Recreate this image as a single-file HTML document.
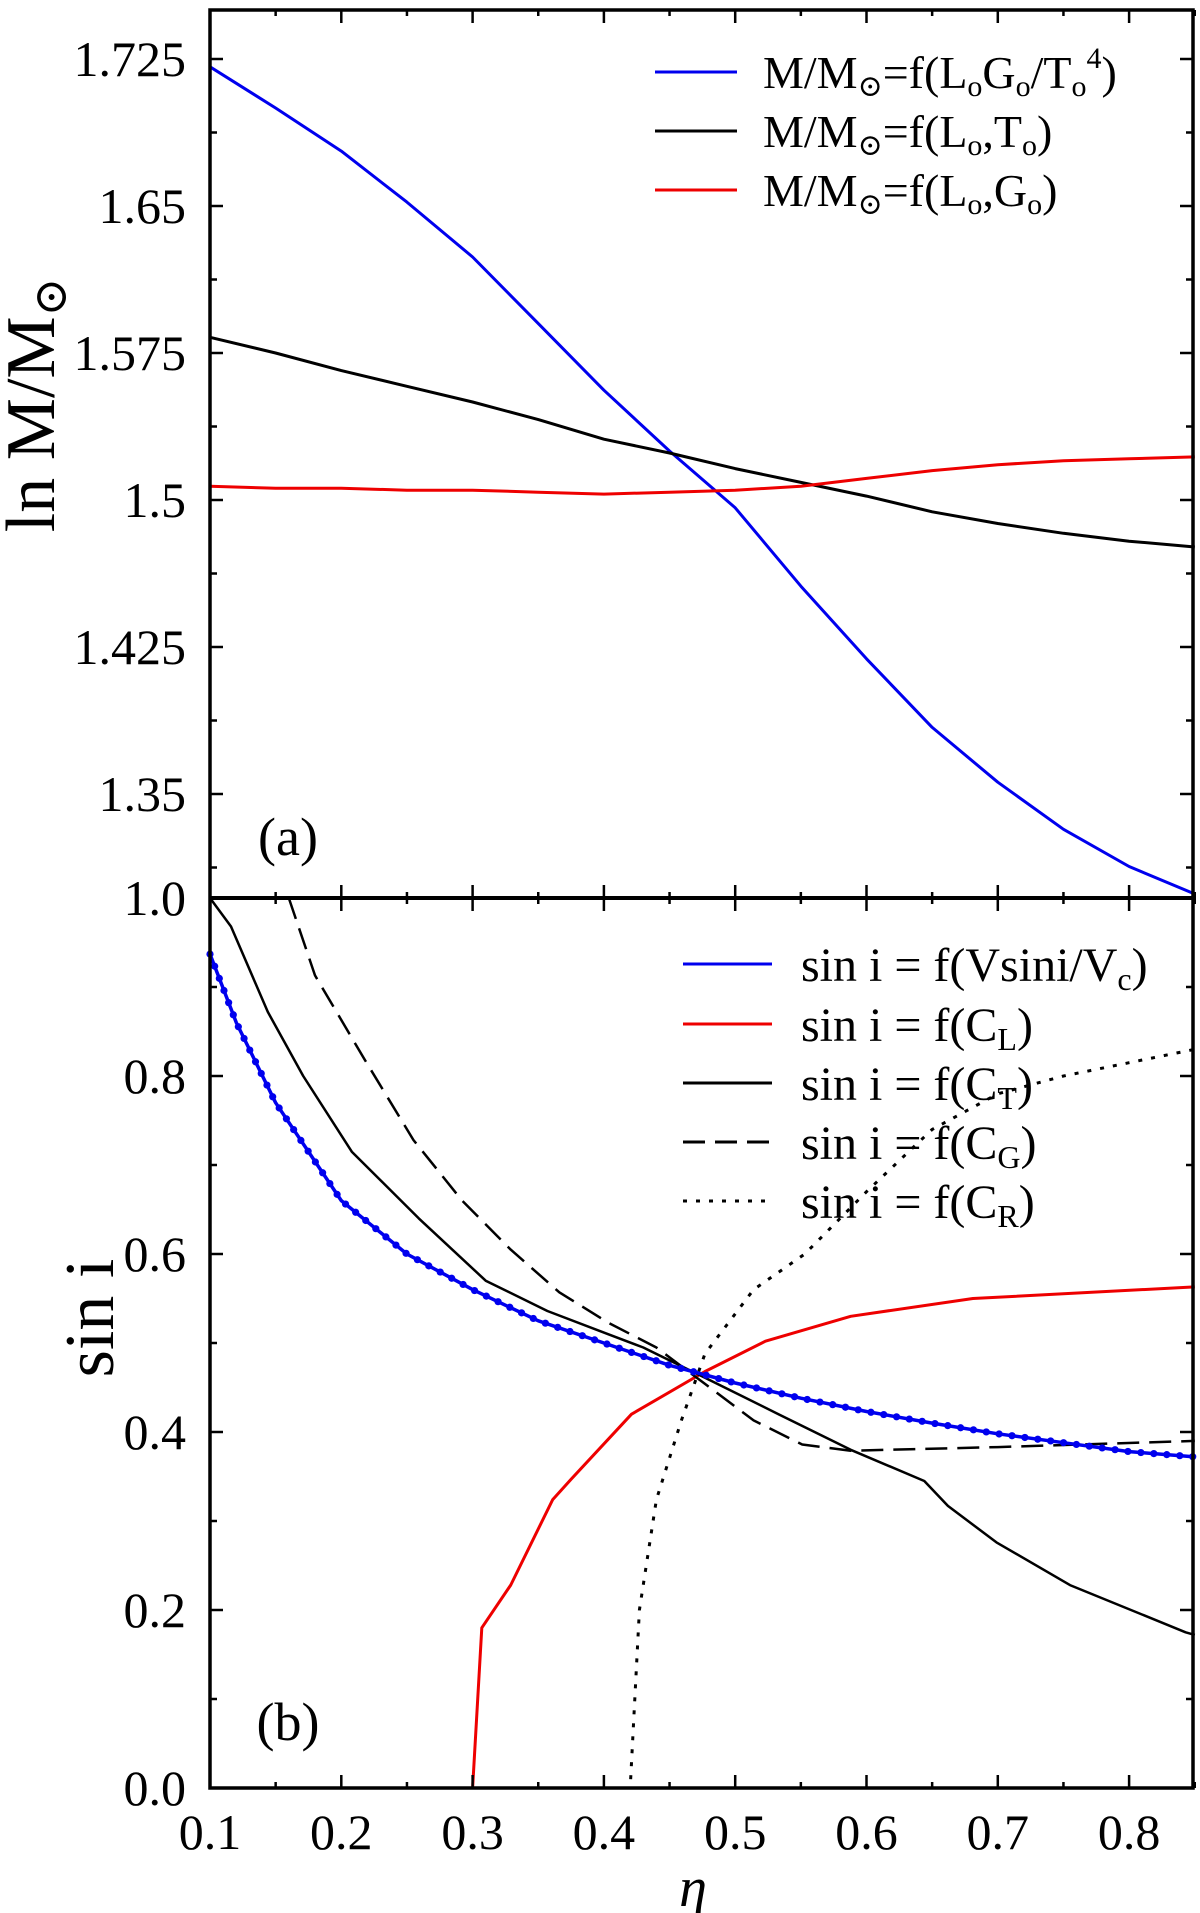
<!DOCTYPE html>
<html><head><meta charset="utf-8"><style>
html,body{margin:0;padding:0;background:#fff;}
svg{display:block;}
text{font-family:"Liberation Serif","DejaVu Serif",serif;}
</style></head><body>
<svg id="chart" width="1200" height="1913" viewBox="0 0 1200 1913" xmlns="http://www.w3.org/2000/svg" font-family="Liberation Serif, serif"></svg>
<script>
// ---- data ----
const etaA = [0.1,0.15,0.2,0.25,0.3,0.35,0.4,0.45,0.5,0.55,0.6,0.65,0.7,0.75,0.8,0.85];
const massBlue = [1.721,1.700,1.678,1.652,1.624,1.590,1.556,1.525,1.496,1.456,1.419,1.384,1.356,1.332,1.313,1.299];
const massBlack = [1.583,1.575,1.566,1.558,1.550,1.541,1.531,1.524,1.516,1.509,1.502,1.494,1.488,1.483,1.479,1.476];
const massRed = [1.507,1.506,1.506,1.505,1.505,1.504,1.503,1.504,1.505,1.507,1.511,1.515,1.518,1.520,1.521,1.522];

const etaV = [0.1,0.12,0.15,0.2,0.25,0.3,0.35,0.4,0.45,0.5,0.55,0.6,0.65,0.7,0.75,0.8,0.85];
const sinV = [0.937,0.86,0.77,0.66,0.60,0.56,0.525,0.50,0.475,0.455,0.438,0.423,0.41,0.398,0.388,0.378,0.372];
const etaT = [0.1,0.116,0.144,0.171,0.208,0.259,0.31,0.357,0.403,0.43,0.477,0.533,0.588,0.644,0.662,0.699,0.755,0.843,0.85];
const sinT = [1.0,0.968,0.872,0.80,0.715,0.64,0.57,0.536,0.51,0.495,0.461,0.42,0.38,0.345,0.317,0.276,0.228,0.175,0.172];
const etaG = [0.16,0.18,0.218,0.255,0.292,0.329,0.366,0.403,0.44,0.477,0.514,0.551,0.588,0.7,0.85];
const sinG = [1.0,0.913,0.818,0.728,0.66,0.605,0.557,0.523,0.495,0.454,0.413,0.386,0.379,0.383,0.39];
const etaL = [0.1,0.3,0.307,0.329,0.361,0.375,0.421,0.477,0.523,0.588,0.681,0.85];
const sinL = [0,0,0.18,0.228,0.324,0.347,0.42,0.468,0.502,0.53,0.55,0.563];
const etaR = [0.1,0.42,0.427,0.44,0.459,0.477,0.514,0.553,0.6,0.65,0.7,0.75,0.8,0.85];
const sinR = [0,0,0.2,0.324,0.413,0.488,0.56,0.60,0.67,0.74,0.78,0.80,0.815,0.83];

const xTicks = [0.1,0.2,0.3,0.4,0.5,0.6,0.7,0.8];
const xTickLabels = ["0.1","0.2","0.3","0.4","0.5","0.6","0.7","0.8"];
const yTopTicks = [1.725,1.65,1.575,1.5,1.425,1.35];
const yTopLabels = ["1.725","1.65","1.575","1.5","1.425","1.35"];
const yBotTicks = [0,0.2,0.4,0.6,0.8,1.0];
const yBotLabels = ["0.0","0.2","0.4","0.6","0.8","1.0"];

// ---- axes ----
const L=210, R=1193, T=10, MID=898, B=1788;
const X = e => L + (e-0.1)*1313;
const YA = v => 59 + (1.725-v)*1960;
const YB = v => B - v*890;
const NS="http://www.w3.org/2000/svg";
const svg=document.getElementById('chart');
function mk(tag,attrs,parent){const el=document.createElementNS(NS,tag);for(const k in attrs)el.setAttribute(k,attrs[k]);(parent||svg).appendChild(el);return el;}

const plots=mk('g',{});



function line(xs,ys,Y,color,name,dash,w){
  const d=xs.map((e,i)=>(i?'L':'M')+X(e).toFixed(1)+' '+Y(ys[i]).toFixed(1)).join(' ');
  const p=mk('path',{d:d,fill:'none',stroke:color,'stroke-width':w||3,'stroke-linejoin':'round'},plots);
  if(dash)p.setAttribute('stroke-dasharray',dash);
  
  
  return p;
}
line(etaA,massBlue,YA,'#0000ee','series-mass-logg-teff');
line(etaA,massBlack,YA,'#000','series-mass-l-t');
line(etaA,massRed,YA,'#ee0000','series-mass-l-g');

line(etaL,sinL,YB,'#ee0000','series-sini-cl');
line(etaR,sinR,YB,'#000','series-sini-cr','4 9');
line(etaG,sinG,YB,'#000','series-sini-cg','22 10',2.5);
line(etaT,sinT,YB,'#000','series-sini-ct',null,2.5);
const bp=line(etaV,sinV,YB,'#0000ee','series-sini-vsini',null,3.5);
const tot=bp.getTotalLength();
for(let s=0;s<=tot;s+=13){const pt=bp.getPointAtLength(s);
  const c=mk('circle',{cx:pt.x,cy:pt.y,r:3.6,fill:'#0000ee'},plots);
  
  }

// ---- frames & ticks ----
const ax=mk('g',{stroke:'#000','stroke-width':3.5,fill:'none'});


mk('rect',{x:L,y:T,width:R-L,height:B-T},ax);
mk('line',{x1:L,y1:MID,x2:R,y2:MID,'stroke-width':4},ax);
for(let e=0.1;e<=0.851;e+=0.05){
  const major=Math.abs(Math.round(e*10)-e*10)<0.01, len=major?13:6, x=X(e);
  mk('line',{x1:x,y1:B,x2:x,y2:B-len,'stroke-width':2.5},ax);
  mk('line',{x1:x,y1:T,x2:x,y2:T+len,'stroke-width':2.5},ax);
  mk('line',{x1:x,y1:MID,x2:x,y2:MID-len,'stroke-width':2.5},ax);
  mk('line',{x1:x,y1:MID,x2:x,y2:MID+len,'stroke-width':2.5},ax);
}
for(let v=1.3125;v<=1.75;v+=0.0375){
  const y=YA(v); if(y<T+2||y>MID-2)continue;
  const major=yTopTicks.some(t=>Math.abs(t-v)<0.001),len=major?13:7;
  mk('line',{x1:L,y1:y,x2:L+len,y2:y,'stroke-width':2.5},ax);
  mk('line',{x1:R,y1:y,x2:R-len,y2:y,'stroke-width':2.5},ax);
}
for(let v=0.1;v<1.0;v+=0.1){
  const y=YB(v),major=Math.round(v*10)%2===0,len=major?13:7;
  mk('line',{x1:L,y1:y,x2:L+len,y2:y,'stroke-width':2.5},ax);
  mk('line',{x1:R,y1:y,x2:R-len,y2:y,'stroke-width':2.5},ax);
}

// ---- labels ----
function txt(s,x,y,size,anchor,name,extra){
  const t=mk('text',Object.assign({x:x,y:y,'font-size':size,'text-anchor':anchor||'middle',fill:'#000','font-family':'Liberation Serif, serif'},extra||{}));
  t.textContent=s;
  
  
  return t;
}
xTicks.forEach((e,i)=>txt(xTickLabels[i],X(e),1849,50,'middle','x-tick-label'));
yTopTicks.forEach((v,i)=>txt(yTopLabels[i],186,YA(v)+17,50,'end','y-top-tick-label'));
yBotTicks.forEach((v,i)=>txt(yBotLabels[i],186,YB(v)+17,50,'end','y-bottom-tick-label'));
txt('η',693,1906,56,'middle','x-axis-title',{'font-style':'italic'});
txt('(a)',288,855,54,'middle','panel-a-label');
txt('(b)',288,1740,54,'middle','panel-b-label');
</script>

<svg style="position:absolute;left:0;top:0" width="1200" height="1913" viewBox="0 0 1200 1913" xmlns="http://www.w3.org/2000/svg" font-family="Liberation Serif, serif">
  <text transform="translate(54,405) rotate(-90)" text-anchor="middle" font-size="70">ln M/M<tspan font-size="46" dy="12">⊙</tspan></text>
  <text transform="translate(113,1318) rotate(-90)" text-anchor="middle" font-size="70">sin i</text>

  <g font-size="46">
    <g>
      <line x1="655" y1="72" x2="737" y2="72" stroke="#0000ee" stroke-width="3"/>
      <text x="763" y="88">M/M<tspan font-size="30" dy="8">⊙</tspan><tspan dy="-8">=f(L</tspan><tspan font-size="30" dy="8">o</tspan><tspan dy="-8">G</tspan><tspan font-size="30" dy="8">o</tspan><tspan dy="-8">/T</tspan><tspan font-size="30" dy="8">o</tspan><tspan font-size="30" dy="-28">4</tspan><tspan dy="20">)</tspan></text>
    </g>
    <g>
      <line x1="655" y1="131" x2="737" y2="131" stroke="#000" stroke-width="3"/>
      <text x="763" y="147">M/M<tspan font-size="30" dy="8">⊙</tspan><tspan dy="-8">=f(L</tspan><tspan font-size="30" dy="8">o</tspan><tspan dy="-8">,T</tspan><tspan font-size="30" dy="8">o</tspan><tspan dy="-8">)</tspan></text>
    </g>
    <g>
      <line x1="655" y1="190" x2="737" y2="190" stroke="#ee0000" stroke-width="3"/>
      <text x="763" y="206">M/M<tspan font-size="30" dy="8">⊙</tspan><tspan dy="-8">=f(L</tspan><tspan font-size="30" dy="8">o</tspan><tspan dy="-8">,G</tspan><tspan font-size="30" dy="8">o</tspan><tspan dy="-8">)</tspan></text>
    </g>
  </g>

  <g font-size="48">
    <g>
      <line x1="683" y1="964" x2="772" y2="964" stroke="#0000ee" stroke-width="3"/>
      <text x="801" y="981">sin i = f(Vsini/V<tspan font-size="32" dy="9">c</tspan><tspan dy="-9">)</tspan></text>
    </g>
    <g>
      <line x1="683" y1="1024" x2="772" y2="1024" stroke="#ee0000" stroke-width="3"/>
      <text x="801" y="1041">sin i = f(C<tspan font-size="32" dy="9">L</tspan><tspan dy="-9">)</tspan></text>
    </g>
    <g>
      <line x1="683" y1="1083" x2="772" y2="1083" stroke="#000" stroke-width="3"/>
      <text x="801" y="1100">sin i = f(C<tspan font-size="32" dy="9">T</tspan><tspan dy="-9">)</tspan></text>
    </g>
    <g>
      <line x1="683" y1="1142" x2="772" y2="1142" stroke="#000" stroke-width="3" stroke-dasharray="22 10"/>
      <text x="801" y="1159">sin i = f(C<tspan font-size="32" dy="9">G</tspan><tspan dy="-9">)</tspan></text>
    </g>
    <g>
      <line x1="683" y1="1201" x2="772" y2="1201" stroke="#000" stroke-width="3" stroke-dasharray="4 9"/>
      <text x="801" y="1218">sin i = f(C<tspan font-size="32" dy="9">R</tspan><tspan dy="-9">)</tspan></text>
    </g>
  </g>
</svg>
</body></html>
